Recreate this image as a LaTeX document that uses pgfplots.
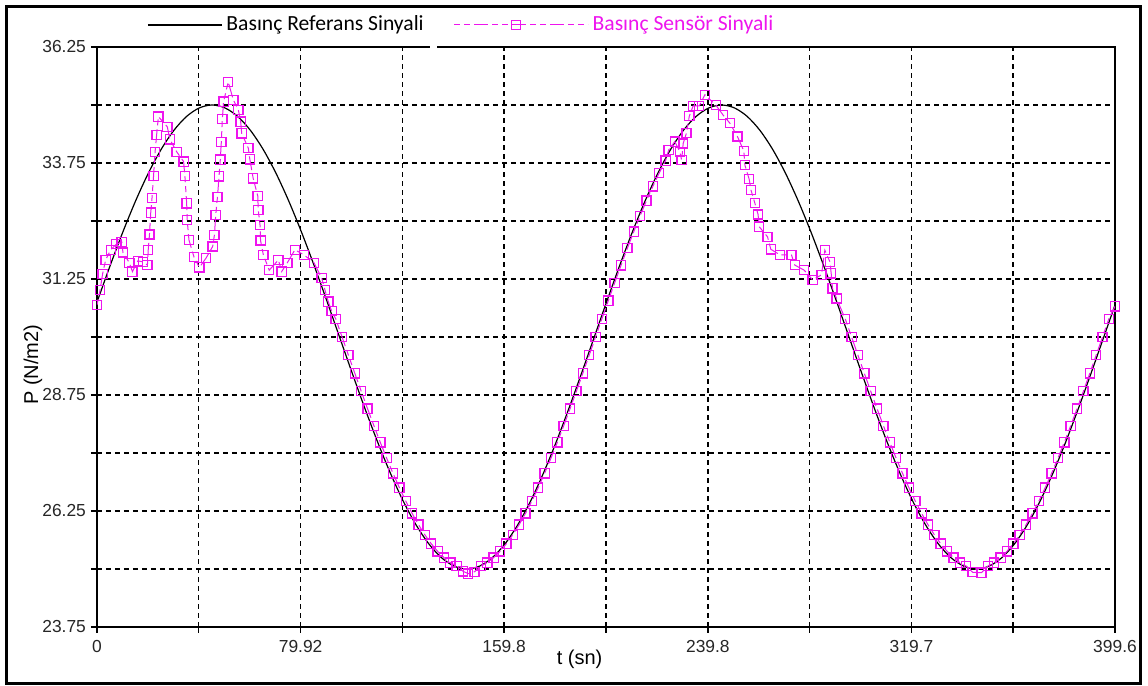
\documentclass[border=0pt]{standalone}
\usepackage{pgfplots}
\usepackage{pgfplotstable}
\pgfplotsset{compat=1.18}
\usepackage{fontspec}
\setmainfont{Liberation Sans}
\newfontfamily\calibri{Carlito}
\definecolor{sensmag}{RGB}{238,20,238}

% legend samples of different lengths
\pgfplotsset{
  refleg/.style={legend image code/.code={\draw[##1] (0pt,0pt) -- (37pt,0pt);}},
  sensleg/.style={legend image code/.code={\draw[mark repeat=2, mark phase=2, ##1] plot coordinates {(0pt,0pt) (31pt,0pt) (67pt,0pt)};}},
}

% reference pressure signal
\pgfplotstableread{
t y
0 30.751
5.2 31.545
10.2 32.270
15.2 32.939
20.2 33.536
25.2 34.045
30.2 34.455
35.2 34.755
40.2 34.938
45.2 35.000
50.2 34.938
55.2 34.755
60.2 34.455
65.2 34.045
70.2 33.536
75.2 32.939
80.2 32.270
85.2 31.545
90.2 30.782
95.2 30.000
100.2 29.218
105.2 28.455
110.2 27.730
115.2 27.061
120.2 26.464
125.2 25.955
130.2 25.545
135.2 25.245
140.2 25.062
145.2 25.000
150.2 25.062
155.2 25.245
160.2 25.545
165.2 25.955
170.2 26.464
175.2 27.061
180.2 27.730
185.2 28.455
190.2 29.218
195.2 30.000
200.2 30.782
205.2 31.545
210.2 32.270
215.2 32.939
220.2 33.536
225.2 34.045
230.2 34.455
235.2 34.755
240.2 34.938
245.2 35.000
250.2 34.938
255.2 34.755
260.2 34.455
265.2 34.045
270.2 33.536
275.2 32.939
280.2 32.270
285.2 31.545
290.2 30.782
295.2 30.000
300.2 29.218
305.2 28.455
310.2 27.730
315.2 27.061
320.2 26.464
325.2 25.955
330.2 25.545
335.2 25.245
340.2 25.062
345.2 25.000
350.2 25.062
355.2 25.245
360.2 25.545
365.2 25.955
370.2 26.464
375.2 27.061
380.2 27.730
385.2 28.455
390.2 29.218
395.2 30.000
399.6 30.689
}\refdata

% measured sensor signal
\pgfplotstableread{
t y
0.0 30.69
1.2 31.01
2.2 31.36
3.4 31.66
5.4 31.88
7.6 32.00
9.7 32.05
10.2 31.82
12.7 31.60
13.9 31.41
16.0 31.64
18.0 31.62
19.8 31.55
20.1 31.87
20.6 32.21
21.1 32.68
21.6 33.00
22.2 33.47
22.8 33.99
23.4 34.35
24.1 34.75
27.6 34.53
28.6 34.26
31.3 33.99
34.0 33.78
34.5 33.47
35.2 32.88
35.4 32.52
36.1 32.09
38.1 31.72
40.2 31.50
42.8 31.70
45.4 31.95
46.1 32.20
46.6 32.63
47.3 33.02
47.9 33.46
48.4 33.82
48.8 34.20
49.2 34.70
49.7 35.07
51.5 35.50
53.5 35.11
55.5 34.89
56.4 34.64
56.8 34.39
59.4 34.07
60.0 33.83
61.3 33.42
63.1 33.04
63.3 32.74
64.0 32.41
64.2 32.08
65.3 31.77
67.6 31.44
71.2 31.66
72.5 31.41
74.7 31.60
77.7 31.88
81.2 31.77
85.2 31.60
88.2 31.27
89.5 31.01
90.8 30.76
92.1 30.56
93.7 30.393
96.2 30.000
98.7 29.607
101.2 29.218
103.7 28.833
106.2 28.455
108.7 28.087
111.2 27.730
113.7 27.388
116.2 27.061
118.7 26.753
121.2 26.464
123.7 26.198
126.2 25.955
128.7 25.737
131.2 25.545
133.7 25.381
136.2 25.245
138.7 25.138
141.2 25.062
143.7 24.95
145.7 24.90
148.2 24.94
150.7 25.062
153.2 25.138
155.7 25.245
158.2 25.381
160.7 25.545
163.2 25.737
165.7 25.955
168.2 26.198
170.7 26.464
173.2 26.753
175.7 27.061
178.2 27.388
180.7 27.730
183.2 28.087
185.7 28.455
188.2 28.833
190.7 29.218
193.2 29.607
195.7 30.000
198.2 30.393
200.7 30.782
203.2 31.167
205.7 31.545
208.2 31.913
210.7 32.270
213.2 32.612
215.7 32.939
218.2 33.247
220.7 33.536
223.2 33.802
224.4 34.03
226.8 34.21
228.8 33.99
229.5 33.81
230.1 34.17
231.4 34.40
232.5 34.76
234.0 34.98
236.4 34.98
238.6 35.22
242.9 35.00
245.8 34.78
248.4 34.61
251.4 34.32
253.9 34.01
254.3 33.71
256.0 33.40
256.7 33.17
258.2 32.89
259.5 32.64
259.9 32.38
263.2 32.16
264.5 31.89
268.1 31.77
272.6 31.77
273.9 31.55
277.6 31.44
280.9 31.23
284.4 31.34
285.7 31.87
287.7 31.62
288.2 31.37
288.7 31.05
290.3 30.83
293.7 30.393
296.2 30.000
298.7 29.607
301.2 29.218
303.7 28.833
306.2 28.455
308.7 28.087
311.2 27.730
313.7 27.388
316.2 27.061
318.7 26.753
321.2 26.464
323.7 26.198
326.2 25.955
328.7 25.737
331.2 25.545
333.7 25.381
336.2 25.245
338.7 25.138
341.2 25.062
343.7 24.93
347.2 24.92
349.7 25.062
352.2 25.138
354.7 25.245
357.2 25.381
359.7 25.545
362.2 25.737
364.7 25.955
367.2 26.198
369.7 26.464
372.2 26.753
374.7 27.061
377.2 27.388
379.7 27.730
382.2 28.087
384.7 28.455
387.2 28.833
389.7 29.218
392.2 29.607
394.7 30.000
397.2 30.393
399.6 30.66
}\sensdata

\begin{document}
\begin{tikzpicture}
\begin{axis}[
  at={(0,0)}, anchor=south west,
  scale only axis, width=509pt, height=290pt,
  xmin=0, xmax=399.6, ymin=23.75, ymax=36.25,
  xtick={0,79.92,159.8,239.8,319.7,399.6},
  xticklabels={0,79.92,159.8,239.8,319.7,399.6},
  minor xtick={39.96,119.88,199.8,279.7,359.6},
  ytick={23.75,26.25,28.75,31.25,33.75,36.25},
  yticklabels={23.75,26.25,28.75,31.25,33.75,36.25},
  minor ytick={25,27.5,30,32.5,35},
  grid=both,
  major grid style={black, line width=0.65pt, dash pattern=on 2.5pt off 2pt},
  minor grid style={black, line width=0.65pt, dash pattern=on 2.5pt off 2pt},
  tick pos=left, tick align=outside,
  major tick length=3pt, minor tick length=3pt,
  tick style={black, line width=0.6pt},
  axis line style={black, line width=0.8pt},
  ticklabel style={font=\fontsize{8.7}{10}\selectfont, text=black!85},
  yticklabel style={xshift=1pt},
  xlabel={t (sn)}, ylabel={P (N/m2)},
  label style={font=\fontsize{9.5}{11}\selectfont},
  every axis x label/.style={at={(axis description cs:0.474,0)}, anchor=north, yshift=-8pt},
  every axis y label/.style={at={(axis description cs:-0.063,0.452)}, rotate=90, anchor=center},
  legend style={at={(0.049,1.038)}, anchor=west, draw=none, fill=none,
    inner sep=0pt, font=\calibri\fontsize{10.8}{12}\selectfont,
    /tikz/every even column/.append style={column sep=13pt}},
  legend columns=2,
]
\addplot[black, line width=0.6pt, smooth, refleg]
  table[x=t, y=y] {\refdata};
\addlegendentry{Basınç Referans Sinyali}
\addplot[sensmag, line width=0.5pt, dash pattern=on 3pt off 2pt on 3pt off 2pt on 7pt off 2pt,
  mark=square, mark size=2.3pt, mark options={solid, line width=0.65pt}, sensleg]
  table[x=t, y=y] {\sensdata};
\addlegendentry{\textcolor{sensmag}{Basınç Sensör Sinyali}}
\end{axis}
\fill[white] (166.5pt,288.5pt) rectangle (170pt,291.5pt);
\draw[line width=1.5pt] (-45.25pt,-28.25pt) rectangle (521.75pt,310.25pt);
\pgfresetboundingbox
\path[use as bounding box] (-48.5pt,-29.5pt) rectangle (525.5pt,313.5pt);
\end{tikzpicture}
\end{document}
